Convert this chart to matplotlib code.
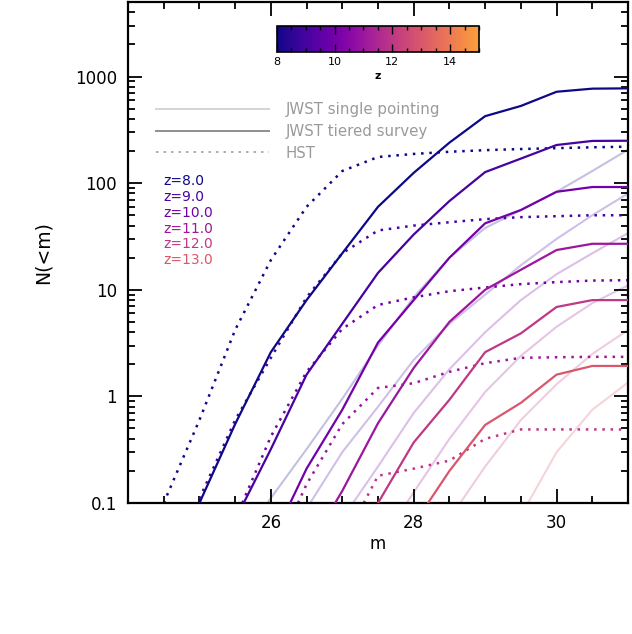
import matplotlib
matplotlib.use("Agg")
import matplotlib.pyplot as plt
import numpy as np
from matplotlib.lines import Line2D
from matplotlib.colors import ListedColormap, Normalize
from matplotlib.ticker import FixedLocator, MultipleLocator, LogLocator, NullFormatter

# redshifts shown
z_vals = [8.0, 9.0, 10.0, 11.0, 12.0, 13.0]

# JWST tiered survey (solid)
tier_m = [
    [25.0, 25.5, 26.0, 26.5, 27.0, 27.5, 28.0, 28.5, 29.0, 29.5, 30.0, 30.5, 31.0],
    [25.62, 26.0, 26.5, 27.0, 27.5, 28.0, 28.5, 29.0, 29.5, 30.0, 30.5, 31.0],
    [26.27, 26.5, 27.0, 27.5, 28.0, 28.5, 29.0, 29.5, 30.0, 30.5, 31.0],
    [26.9, 27.0, 27.5, 28.0, 28.5, 29.0, 29.5, 30.0, 30.5, 31.0],
    [27.5, 28.0, 28.5, 29.0, 29.5, 30.0, 30.5, 31.0],
    [28.2, 28.5, 29.0, 29.5, 30.0, 30.5, 31.0],
]
tier_n = [
    [0.1, 0.55, 2.6, 8.0, 22, 60, 125, 240, 425, 530, 720, 770, 775],
    [0.1, 0.32, 1.6, 4.8, 14.4, 33, 68, 127, 170, 228, 249, 250],
    [0.1, 0.21, 0.75, 3.2, 8.0, 20, 42, 56, 83, 92, 92],
    [0.1, 0.13, 0.56, 1.85, 5.0, 10, 15.4, 23.6, 27, 27],
    [0.1, 0.37, 0.93, 2.6, 3.9, 6.9, 8.0, 8.0],
    [0.1, 0.2, 0.54, 0.87, 1.6, 1.93, 1.93],
]

# JWST single pointing (faint)
single_m = [
    [25.95, 26.5, 27.0, 27.5, 28.0, 28.5, 29.0, 29.5, 30.0, 30.5, 31.0],
    [26.55, 27.0, 27.5, 28.0, 28.5, 29.0, 29.5, 30.0, 30.5, 31.0],
    [27.15, 27.5, 28.0, 28.5, 29.0, 29.5, 30.0, 30.5, 31.0],
    [27.9, 28.5, 29.0, 29.5, 30.0, 30.5, 31.0],
    [28.65, 29.0, 29.5, 30.0, 30.5, 31.0],
    [29.6, 30.0, 30.5, 31.0],
]
single_n = [
    [0.1, 0.32, 0.95, 3.0, 8.5, 20, 38, 56, 83, 130, 206],
    [0.1, 0.3, 0.8, 2.2, 4.8, 9, 17, 30, 50, 80],
    [0.1, 0.22, 0.7, 1.8, 4, 8, 14, 22, 34],
    [0.1, 0.4, 1.1, 2.4, 4.5, 7.5, 11],
    [0.1, 0.22, 0.6, 1.3, 2.5, 4.2],
    [0.1, 0.3, 0.75, 1.35],
]

# HST (dotted), z=8..12 (z=13 stays below the plot)
hst_z = [8.0, 9.0, 10.0, 11.0, 12.0]
hst_m = [
    [24.5, 25.0, 25.5, 26.0, 26.5, 27.0, 27.5, 28.0, 28.5, 29.0, 29.5, 30.0, 30.5, 31.0],
    [25.0, 25.5, 26.0, 26.5, 27.0, 27.5, 28.0, 28.5, 29.0, 29.5, 30.0, 30.5, 31.0],
    [25.6, 26.0, 26.5, 27.0, 27.5, 28.0, 28.5, 29.0, 29.5, 30.0, 30.5, 31.0],
    [26.38, 26.5, 27.0, 27.5, 28.0, 28.5, 29.0, 29.5, 30.0, 30.5, 31.0],
    [27.3, 27.5, 28.0, 28.5, 29.0, 29.5, 30.0, 30.5, 31.0],
]
hst_n = [
    [0.1, 0.6, 4.2, 19, 60, 130, 176, 188, 197, 204, 209, 213, 217, 220],
    [0.11, 0.6, 2.3, 8.5, 22, 36, 40, 43, 46, 48, 49, 50, 50],
    [0.1, 0.42, 1.7, 4.3, 7.2, 8.5, 9.7, 10.5, 11.3, 11.8, 12.2, 12.3],
    [0.1, 0.15, 0.55, 1.2, 1.33, 1.7, 2.05, 2.3, 2.33, 2.35, 2.35],
    [0.1, 0.18, 0.21, 0.25, 0.4, 0.49, 0.49, 0.49, 0.49],
]

# plasma, stopping at orange
cmap = ListedColormap(plt.get_cmap("plasma")(np.linspace(0, 0.78, 256)))
norm = Normalize(vmin=8, vmax=15)

plt.rcParams["font.family"] = "DejaVu Sans"

fig = plt.figure(figsize=(6.32, 6.34), dpi=100)
ax = fig.add_axes([0.2025, 0.2066, 0.7912, 0.7902])

for i, z in enumerate(z_vals):
    ax.plot(single_m[i], single_n[i], color=cmap(norm(z)), alpha=0.25, lw=1.5, zorder=1)
for i, z in enumerate(z_vals):
    ax.plot(tier_m[i], tier_n[i], color=cmap(norm(z)), lw=1.6, zorder=3)
for i, z in enumerate(hst_z):
    ax.plot(hst_m[i], hst_n[i], color=cmap(norm(z)), lw=1.8, ls=(0, (1, 2.3)), zorder=2)

ax.set_yscale("log")
ax.set_xlim(24, 31)
ax.set_ylim(0.1, 5000)

ax.xaxis.set_major_locator(FixedLocator([26, 28, 30]))
ax.xaxis.set_minor_locator(MultipleLocator(0.5))
ax.yaxis.set_major_locator(FixedLocator([0.1, 1, 10, 100, 1000]))
ax.set_yticklabels(["0.1", "1", "10", "100", "1000"])
ax.yaxis.set_minor_locator(LogLocator(base=10, subs=np.arange(2, 10)))
ax.yaxis.set_minor_formatter(NullFormatter())
ax.tick_params(which="both", direction="in", top=True, right=True, width=1.3, labelsize=12, colors="black")
ax.tick_params(which="major", length=10, pad=8)
ax.tick_params(which="minor", length=5)
for s in ax.spines.values():
    s.set_linewidth(1.6)

ax.set_xlabel("m", fontsize=12, labelpad=2)
ax.set_ylabel("N(<m)", fontsize=13.5, labelpad=16)

# legend for line styles
handles = [
    Line2D([], [], color="#d4d4d4", lw=1.4),
    Line2D([], [], color="#8e8e8e", lw=1.4),
    Line2D([], [], color="#a0a0a0", lw=1.2, ls=(0, (1.5, 3))),
]
labels = ["JWST single pointing", "JWST tiered survey", "HST"]
leg = ax.legend(handles, labels, loc="upper left", bbox_to_anchor=(0.045, 0.812),
                frameon=False, handlelength=7.5, handletextpad=1.1, labelspacing=0.45,
                fontsize=10.8, borderaxespad=0)
for t in leg.get_texts():
    t.set_color("#9a9a9a")

# redshift labels
for i, z in enumerate(z_vals):
    ax.text(0.07, 0.643 - i * 0.0317, "z=%.1f" % z, transform=ax.transAxes,
            color=cmap(norm(z)), fontsize=10, va="center", ha="left")

# colorbar inset
cax = fig.add_axes([0.438, 0.918, 0.32, 0.041])
sm = matplotlib.cm.ScalarMappable(norm=norm, cmap=cmap)
cb = fig.colorbar(sm, cax=cax, orientation="horizontal")
cb.set_ticks([8, 10, 12, 14])
cb.ax.xaxis.set_minor_locator(MultipleLocator(0.5))
cb.ax.tick_params(which="both", direction="in", top=True, bottom=True, width=1.0, labelsize=8)
cb.ax.tick_params(which="major", length=6)
cb.ax.tick_params(which="minor", length=3)
cb.outline.set_linewidth(1.2)
cb.set_label("z", fontsize=8, fontweight="bold", labelpad=3)

fig.savefig("out.png", dpi=100)
